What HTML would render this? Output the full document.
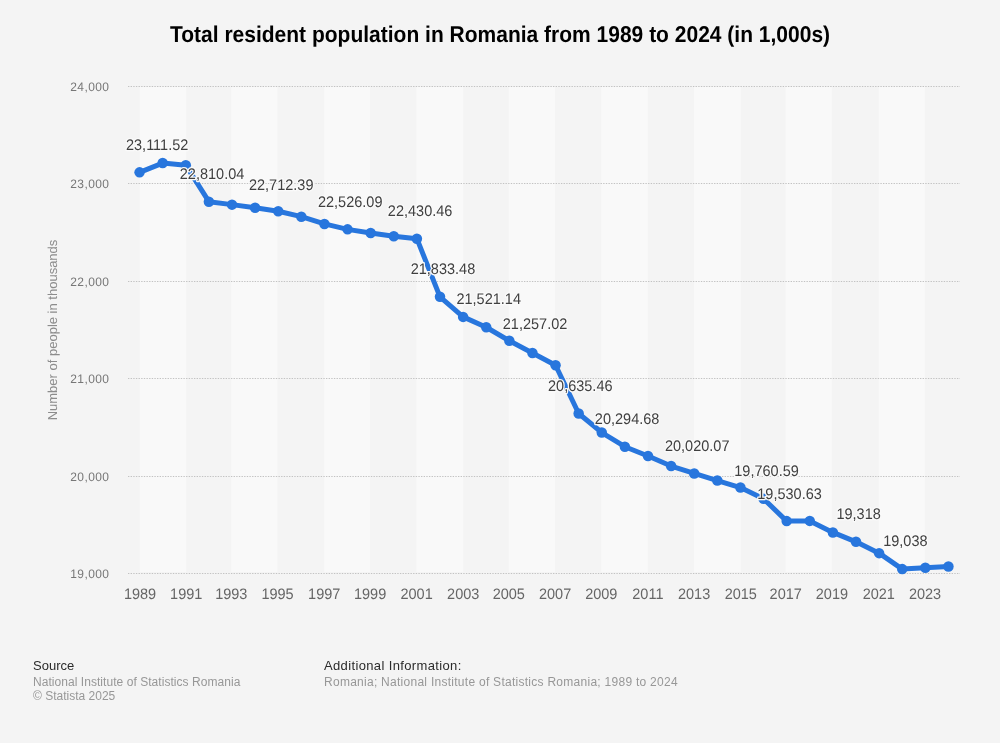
<!DOCTYPE html><html><head><meta charset="utf-8"><style>
html,body{margin:0;padding:0;background:#f4f4f4;}
body{width:1000px;height:743px;overflow:hidden;position:relative;font-family:"Liberation Sans",sans-serif;}
svg{position:absolute;left:0;top:0;will-change:transform;}
text{font-family:"Liberation Sans",sans-serif;text-rendering:geometricPrecision;}
.foot{position:absolute;font-size:13px;line-height:15px;white-space:nowrap;will-change:transform;}
.fh{color:#2a2a2a;}
.fg{color:#979797;font-size:12px;line-height:14.5px;}
.g1{margin-top:1.6px;}
</style></head><body>
<svg width="1000" height="743" viewBox="0 0 1000 743">
<rect x="0" y="0" width="1000" height="743" fill="#f4f4f4"/>
<text x="0" y="0" transform="translate(500,41.9) scale(1,1.09)" text-anchor="middle" font-size="21" font-weight="bold" fill="#000">Total resident population in Romania from 1989 to 2024 (in 1,000s)</text>
<rect x="139.90" y="87.00" width="46.20" height="485.00" fill="#f9f9f9"/>
<rect x="231.20" y="87.00" width="46.20" height="485.00" fill="#f9f9f9"/>
<rect x="324.10" y="87.00" width="45.90" height="485.00" fill="#f9f9f9"/>
<rect x="416.50" y="87.00" width="46.60" height="485.00" fill="#f9f9f9"/>
<rect x="508.70" y="87.00" width="46.30" height="485.00" fill="#f9f9f9"/>
<rect x="601.20" y="87.00" width="46.60" height="485.00" fill="#f9f9f9"/>
<rect x="694.00" y="87.00" width="46.70" height="485.00" fill="#f9f9f9"/>
<rect x="785.60" y="87.00" width="46.20" height="485.00" fill="#f9f9f9"/>
<rect x="878.70" y="87.00" width="46.20" height="485.00" fill="#f9f9f9"/>
<line x1="128.0" y1="86.50" x2="960.0" y2="86.50" stroke="#c2c2c2" stroke-width="1" stroke-dasharray="1.35 1.29"/>
<line x1="128.0" y1="183.50" x2="960.0" y2="183.50" stroke="#c2c2c2" stroke-width="1" stroke-dasharray="1.35 1.29"/>
<line x1="128.0" y1="281.50" x2="960.0" y2="281.50" stroke="#c2c2c2" stroke-width="1" stroke-dasharray="1.35 1.29"/>
<line x1="128.0" y1="378.50" x2="960.0" y2="378.50" stroke="#c2c2c2" stroke-width="1" stroke-dasharray="1.35 1.29"/>
<line x1="128.0" y1="476.50" x2="960.0" y2="476.50" stroke="#c2c2c2" stroke-width="1" stroke-dasharray="1.35 1.29"/>
<line x1="128.0" y1="573.50" x2="960.0" y2="573.50" stroke="#c2c2c2" stroke-width="1" stroke-dasharray="1.35 1.29"/>
<text x="0" y="0" transform="translate(109.4,90.80) scale(1,1.03)" text-anchor="end" font-size="12" letter-spacing="0.4" fill="#777">24,000</text>
<text x="0" y="0" transform="translate(109.4,187.80) scale(1,1.03)" text-anchor="end" font-size="12" letter-spacing="0.4" fill="#777">23,000</text>
<text x="0" y="0" transform="translate(109.4,285.80) scale(1,1.03)" text-anchor="end" font-size="12" letter-spacing="0.4" fill="#777">22,000</text>
<text x="0" y="0" transform="translate(109.4,382.80) scale(1,1.03)" text-anchor="end" font-size="12" letter-spacing="0.4" fill="#777">21,000</text>
<text x="0" y="0" transform="translate(109.4,480.80) scale(1,1.03)" text-anchor="end" font-size="12" letter-spacing="0.4" fill="#777">20,000</text>
<text x="0" y="0" transform="translate(109.4,577.80) scale(1,1.03)" text-anchor="end" font-size="12" letter-spacing="0.4" fill="#777">19,000</text>
<text x="0" y="0" transform="translate(140.00,599) scale(1,1.05)" text-anchor="middle" font-size="14.5" fill="#666">1989</text>
<text x="0" y="0" transform="translate(186.20,599) scale(1,1.05)" text-anchor="middle" font-size="14.5" fill="#666">1991</text>
<text x="0" y="0" transform="translate(231.30,599) scale(1,1.05)" text-anchor="middle" font-size="14.5" fill="#666">1993</text>
<text x="0" y="0" transform="translate(277.50,599) scale(1,1.05)" text-anchor="middle" font-size="14.5" fill="#666">1995</text>
<text x="0" y="0" transform="translate(324.20,599) scale(1,1.05)" text-anchor="middle" font-size="14.5" fill="#666">1997</text>
<text x="0" y="0" transform="translate(370.10,599) scale(1,1.05)" text-anchor="middle" font-size="14.5" fill="#666">1999</text>
<text x="0" y="0" transform="translate(416.60,599) scale(1,1.05)" text-anchor="middle" font-size="14.5" fill="#666">2001</text>
<text x="0" y="0" transform="translate(463.20,599) scale(1,1.05)" text-anchor="middle" font-size="14.5" fill="#666">2003</text>
<text x="0" y="0" transform="translate(508.80,599) scale(1,1.05)" text-anchor="middle" font-size="14.5" fill="#666">2005</text>
<text x="0" y="0" transform="translate(555.10,599) scale(1,1.05)" text-anchor="middle" font-size="14.5" fill="#666">2007</text>
<text x="0" y="0" transform="translate(601.30,599) scale(1,1.05)" text-anchor="middle" font-size="14.5" fill="#666">2009</text>
<text x="0" y="0" transform="translate(647.90,599) scale(1,1.05)" text-anchor="middle" font-size="14.5" fill="#666">2011</text>
<text x="0" y="0" transform="translate(694.10,599) scale(1,1.05)" text-anchor="middle" font-size="14.5" fill="#666">2013</text>
<text x="0" y="0" transform="translate(740.80,599) scale(1,1.05)" text-anchor="middle" font-size="14.5" fill="#666">2015</text>
<text x="0" y="0" transform="translate(785.70,599) scale(1,1.05)" text-anchor="middle" font-size="14.5" fill="#666">2017</text>
<text x="0" y="0" transform="translate(831.90,599) scale(1,1.05)" text-anchor="middle" font-size="14.5" fill="#666">2019</text>
<text x="0" y="0" transform="translate(878.80,599) scale(1,1.05)" text-anchor="middle" font-size="14.5" fill="#666">2021</text>
<text x="0" y="0" transform="translate(925.00,599) scale(1,1.05)" text-anchor="middle" font-size="14.5" fill="#666">2023</text>
<text x="0" y="0" transform="translate(56.6,330) rotate(-90)" text-anchor="middle" font-size="13" fill="#8c8c8c">Number of people in thousands</text>
<polyline points="139.56,172.34 162.67,163.07 185.78,165.17 208.89,201.70 232.00,204.64 255.11,207.74 278.22,211.21 301.33,216.69 324.44,223.93 347.56,229.36 370.67,233.01 393.78,236.24 416.89,238.67 440.00,296.82 463.11,316.88 486.22,327.24 509.33,340.76 532.44,352.97 555.56,365.29 578.67,413.51 601.78,432.52 624.89,446.70 648.00,456.01 671.11,466.05 694.22,473.45 717.33,480.53 740.44,487.52 763.56,498.72 786.67,521.12 809.78,520.89 832.89,532.43 856.00,541.83 879.11,553.16 902.22,569.10 925.33,567.83 948.44,566.50" fill="none" stroke="#2876dd" stroke-width="5" stroke-linejoin="round" stroke-linecap="round"/>
<circle cx="139.56" cy="172.34" r="5.25" fill="#2876dd"/>
<circle cx="162.67" cy="163.07" r="5.25" fill="#2876dd"/>
<circle cx="185.78" cy="165.17" r="5.25" fill="#2876dd"/>
<circle cx="208.89" cy="201.70" r="5.25" fill="#2876dd"/>
<circle cx="232.00" cy="204.64" r="5.25" fill="#2876dd"/>
<circle cx="255.11" cy="207.74" r="5.25" fill="#2876dd"/>
<circle cx="278.22" cy="211.21" r="5.25" fill="#2876dd"/>
<circle cx="301.33" cy="216.69" r="5.25" fill="#2876dd"/>
<circle cx="324.44" cy="223.93" r="5.25" fill="#2876dd"/>
<circle cx="347.56" cy="229.36" r="5.25" fill="#2876dd"/>
<circle cx="370.67" cy="233.01" r="5.25" fill="#2876dd"/>
<circle cx="393.78" cy="236.24" r="5.25" fill="#2876dd"/>
<circle cx="416.89" cy="238.67" r="5.25" fill="#2876dd"/>
<circle cx="440.00" cy="296.82" r="5.25" fill="#2876dd"/>
<circle cx="463.11" cy="316.88" r="5.25" fill="#2876dd"/>
<circle cx="486.22" cy="327.24" r="5.25" fill="#2876dd"/>
<circle cx="509.33" cy="340.76" r="5.25" fill="#2876dd"/>
<circle cx="532.44" cy="352.97" r="5.25" fill="#2876dd"/>
<circle cx="555.56" cy="365.29" r="5.25" fill="#2876dd"/>
<circle cx="578.67" cy="413.51" r="5.25" fill="#2876dd"/>
<circle cx="601.78" cy="432.52" r="5.25" fill="#2876dd"/>
<circle cx="624.89" cy="446.70" r="5.25" fill="#2876dd"/>
<circle cx="648.00" cy="456.01" r="5.25" fill="#2876dd"/>
<circle cx="671.11" cy="466.05" r="5.25" fill="#2876dd"/>
<circle cx="694.22" cy="473.45" r="5.25" fill="#2876dd"/>
<circle cx="717.33" cy="480.53" r="5.25" fill="#2876dd"/>
<circle cx="740.44" cy="487.52" r="5.25" fill="#2876dd"/>
<circle cx="763.56" cy="498.72" r="5.25" fill="#2876dd"/>
<circle cx="786.67" cy="521.12" r="5.25" fill="#2876dd"/>
<circle cx="809.78" cy="520.89" r="5.25" fill="#2876dd"/>
<circle cx="832.89" cy="532.43" r="5.25" fill="#2876dd"/>
<circle cx="856.00" cy="541.83" r="5.25" fill="#2876dd"/>
<circle cx="879.11" cy="553.16" r="5.25" fill="#2876dd"/>
<circle cx="902.22" cy="569.10" r="5.25" fill="#2876dd"/>
<circle cx="925.33" cy="567.83" r="5.25" fill="#2876dd"/>
<circle cx="948.44" cy="566.50" r="5.25" fill="#2876dd"/>
<text x="0" y="0" transform="translate(157.15,150.00) scale(1,1.06)" text-anchor="middle" font-size="14.5" fill="#404040" stroke="#fafafa" stroke-width="2.5" paint-order="stroke" stroke-linejoin="round">23,111.52</text>
<text x="0" y="0" transform="translate(212.05,178.70) scale(1,1.06)" text-anchor="middle" font-size="14.5" fill="#404040" stroke="#fafafa" stroke-width="2.5" paint-order="stroke" stroke-linejoin="round">22,810.04</text>
<text x="0" y="0" transform="translate(281.20,189.80) scale(1,1.06)" text-anchor="middle" font-size="14.5" fill="#404040" stroke="#fafafa" stroke-width="2.5" paint-order="stroke" stroke-linejoin="round">22,712.39</text>
<text x="0" y="0" transform="translate(350.20,207.00) scale(1,1.06)" text-anchor="middle" font-size="14.5" fill="#404040" stroke="#fafafa" stroke-width="2.5" paint-order="stroke" stroke-linejoin="round">22,526.09</text>
<text x="0" y="0" transform="translate(420.10,215.80) scale(1,1.06)" text-anchor="middle" font-size="14.5" fill="#404040" stroke="#fafafa" stroke-width="2.5" paint-order="stroke" stroke-linejoin="round">22,430.46</text>
<text x="0" y="0" transform="translate(442.95,273.50) scale(1,1.06)" text-anchor="middle" font-size="14.5" fill="#404040" stroke="#fafafa" stroke-width="2.5" paint-order="stroke" stroke-linejoin="round">21,833.48</text>
<text x="0" y="0" transform="translate(488.70,304.10) scale(1,1.06)" text-anchor="middle" font-size="14.5" fill="#404040" stroke="#fafafa" stroke-width="2.5" paint-order="stroke" stroke-linejoin="round">21,521.14</text>
<text x="0" y="0" transform="translate(535.05,329.20) scale(1,1.06)" text-anchor="middle" font-size="14.5" fill="#404040" stroke="#fafafa" stroke-width="2.5" paint-order="stroke" stroke-linejoin="round">21,257.02</text>
<text x="0" y="0" transform="translate(580.25,390.70) scale(1,1.06)" text-anchor="middle" font-size="14.5" fill="#404040" stroke="#fafafa" stroke-width="2.5" paint-order="stroke" stroke-linejoin="round">20,635.46</text>
<text x="0" y="0" transform="translate(627.10,423.50) scale(1,1.06)" text-anchor="middle" font-size="14.5" fill="#404040" stroke="#fafafa" stroke-width="2.5" paint-order="stroke" stroke-linejoin="round">20,294.68</text>
<text x="0" y="0" transform="translate(697.20,450.90) scale(1,1.06)" text-anchor="middle" font-size="14.5" fill="#404040" stroke="#fafafa" stroke-width="2.5" paint-order="stroke" stroke-linejoin="round">20,020.07</text>
<text x="0" y="0" transform="translate(766.55,475.70) scale(1,1.06)" text-anchor="middle" font-size="14.5" fill="#404040" stroke="#fafafa" stroke-width="2.5" paint-order="stroke" stroke-linejoin="round">19,760.59</text>
<text x="0" y="0" transform="translate(789.55,498.70) scale(1,1.06)" text-anchor="middle" font-size="14.5" fill="#404040" stroke="#fafafa" stroke-width="2.5" paint-order="stroke" stroke-linejoin="round">19,530.63</text>
<text x="0" y="0" transform="translate(858.60,519.30) scale(1,1.06)" text-anchor="middle" font-size="14.5" fill="#404040" stroke="#fafafa" stroke-width="2.5" paint-order="stroke" stroke-linejoin="round">19,318</text>
<text x="0" y="0" transform="translate(905.35,545.90) scale(1,1.06)" text-anchor="middle" font-size="14.5" fill="#404040" stroke="#fafafa" stroke-width="2.5" paint-order="stroke" stroke-linejoin="round">19,038</text>
</svg>
<div class="foot" style="left:33px;top:658px;"><div class="fh">Source</div><div class="fg g1" style="letter-spacing:0.05px">National Institute of Statistics Romania</div><div class="fg">&copy; Statista 2025</div></div>
<div class="foot" style="left:324px;top:658px;"><div class="fh" style="letter-spacing:0.36px">Additional Information:</div><div class="fg g1" style="letter-spacing:0.27px">Romania; National Institute of Statistics Romania; 1989 to 2024</div></div>
</body></html>
